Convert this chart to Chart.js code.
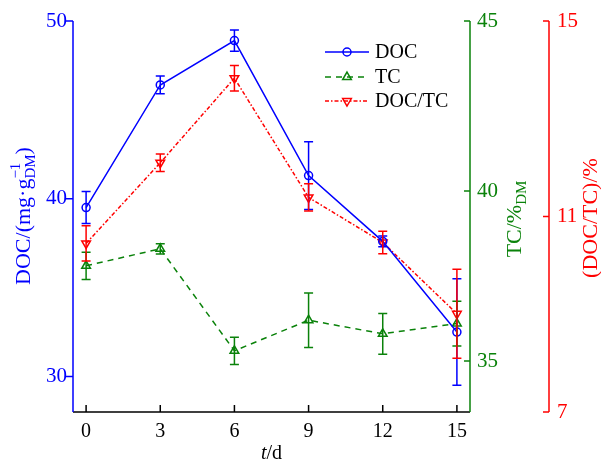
<!DOCTYPE html>
<html>
<head>
<meta charset="utf-8">
<script src="https://cdn.jsdelivr.net/npm/chart.js@4.4.1/dist/chart.umd.min.js"></script>
<style>
  html, body { margin: 0; padding: 0; background: #ffffff; }
  #doc_chart { display: block; }
</style>
</head>
<body>
<canvas id="doc_chart" width="601" height="462"></canvas>
<script>
// composting days
const days = [0, 3, 6, 9, 12, 15];

// DOC (mg/g DM) and its error bars
const docValues = [39.5, 46.4, 48.9, 41.3, 37.6, 32.5];
const docErrors = [0.9, 0.5, 0.6, 1.9, 0.3, 3.0];

// TC (% DM)
const tcValues = [37.8, 38.3, 35.3, 36.2, 35.8, 36.1];
const tcErrors = [0.4, 0.15, 0.4, 0.8, 0.6, 0.66];

// DOC/TC (%)
const ratioValues = [10.45, 12.1, 13.83, 11.39, 10.47, 9.01];
const ratioErrors = [0.36, 0.18, 0.26, 0.28, 0.23, 0.91];

// tick labels of each axis
const xTicks = [0, 3, 6, 9, 12, 15];
const docTicks = [30, 40, 50];
const tcTicks = [35, 40, 45];
const ratioTicks = [7, 11, 15];

const blue = '#0000ff';
const green = '#0a820a';
const red = '#ff0000';
const serif = '"Liberation Serif", "Times New Roman", serif';

let doc_chart = document.getElementById("doc_chart");

function points(values) {
    return days.map((d, i) => ({ x: d, y: values[i] }));
}

function setTicks(list) {
    return scale => { scale.ticks = list.map(v => ({ value: v })); };
}

// draws a marker like Chart.js does (circle / triangle)
function marker(ctx, style, x, y, r, rot, color) {
    ctx.save();
    ctx.strokeStyle = color;
    ctx.lineWidth = 1.5;
    ctx.setLineDash([]);
    ctx.beginPath();
    if (style === 'circle') {
        ctx.arc(x, y, r, 0, Math.PI * 2);
    } else {
        let rad = rot * Math.PI / 180;
        for (let k = 0; k < 3; k++) {
            let px = x + Math.sin(rad) * r;
            let py = y - Math.cos(rad) * r;
            if (k === 0) ctx.moveTo(px, py); else ctx.lineTo(px, py);
            rad += 2 * Math.PI / 3;
        }
        ctx.closePath();
    }
    ctx.stroke();
    ctx.restore();
}

const errorBars = {
    id: 'errorBars',
    afterDatasetsDraw(chart) {
        const ctx = chart.ctx;
        const xs = chart.scales.x;
        chart.data.datasets.forEach(ds => {
            const ys = chart.scales[ds.yAxisID];
            ctx.save();
            ctx.strokeStyle = ds.borderColor;
            ctx.lineWidth = 1.5;
            ctx.setLineDash([]);
            ds.errors.forEach((e, i) => {
                const x = xs.getPixelForValue(days[i]);
                const top = ys.getPixelForValue(ds.data[i].y + e);
                const bot = ys.getPixelForValue(ds.data[i].y - e);
                ctx.beginPath();
                ctx.moveTo(x, top); ctx.lineTo(x, bot);
                ctx.moveTo(x - 4.5, top); ctx.lineTo(x + 4.5, top);
                ctx.moveTo(x - 4.5, bot); ctx.lineTo(x + 4.5, bot);
                ctx.stroke();
            });
            ctx.restore();
        });
    }
};

const axesAndTexts = {
    id: 'axesAndTexts',
    afterDraw(chart) {
        const ctx = chart.ctx;
        const area = chart.chartArea;
        const sx = chart.scales.x, sy = chart.scales.y, sy1 = chart.scales.y1, sy2 = chart.scales.y2;
        ctx.save();
        ctx.lineWidth = 1.5;

        // x axis
        ctx.strokeStyle = '#000';
        ctx.beginPath();
        ctx.moveTo(area.left, area.bottom); ctx.lineTo(area.right, area.bottom);
        xTicks.forEach(v => {
            const x = sx.getPixelForValue(v);
            ctx.moveTo(x, area.bottom); ctx.lineTo(x, area.bottom - 7);
        });
        ctx.stroke();

        // left DOC axis
        ctx.strokeStyle = blue;
        ctx.beginPath();
        ctx.moveTo(area.left, area.top); ctx.lineTo(area.left, area.bottom);
        docTicks.forEach(v => {
            const y = sy.getPixelForValue(v);
            ctx.moveTo(area.left, y); ctx.lineTo(area.left - 8, y);
        });
        ctx.stroke();

        // TC axis
        ctx.strokeStyle = green;
        ctx.beginPath();
        ctx.moveTo(area.right, area.top); ctx.lineTo(area.right, area.bottom);
        tcTicks.forEach(v => {
            const y = sy1.getPixelForValue(v);
            ctx.moveTo(area.right, y); ctx.lineTo(area.right - 6, y);
        });
        ctx.stroke();

        // DOC/TC axis
        const rx = sy2.left;
        ctx.strokeStyle = red;
        ctx.beginPath();
        ctx.moveTo(rx, area.top); ctx.lineTo(rx, area.bottom);
        ratioTicks.forEach(v => {
            const y = sy2.getPixelForValue(v);
            ctx.moveTo(rx, y); ctx.lineTo(rx - 6, y);
        });
        ctx.stroke();

        // axis titles
        const big = '22px ' + serif;
        const small = '15px ' + serif;
        ctx.textBaseline = 'alphabetic';
        ctx.textAlign = 'left';

        // DOC/(mg·g-1 DM)
        ctx.save();
        ctx.fillStyle = blue;
        ctx.translate(30, 216);
        ctx.rotate(-Math.PI / 2);
        ctx.font = big;
        const mainTxt = 'DOC/(mg\u00b7g';
        const wMain = ctx.measureText(mainTxt).width;
        const wClose = ctx.measureText(')').width;
        ctx.font = small;
        const wScript = Math.max(ctx.measureText('\u22121').width, ctx.measureText('DM').width);
        let tx = -(wMain + wScript + wClose) / 2;
        ctx.font = big;
        ctx.fillText(mainTxt, tx, 0);
        tx += wMain;
        ctx.font = small;
        ctx.fillText('\u22121', tx, -10);
        ctx.fillText('DM', tx, 5);
        tx += wScript;
        ctx.font = big;
        ctx.fillText(')', tx, 0);
        ctx.restore();

        // TC/%DM
        ctx.save();
        ctx.fillStyle = green;
        ctx.translate(521, 219);
        ctx.rotate(-Math.PI / 2);
        ctx.font = big;
        const wTc = ctx.measureText('TC/%').width;
        ctx.font = small;
        const wDm = ctx.measureText('DM').width;
        tx = -(wTc + wDm) / 2;
        ctx.font = big;
        ctx.fillText('TC/%', tx, 0);
        ctx.font = small;
        ctx.fillText('DM', tx + wTc, 5);
        ctx.restore();

        // (DOC/TC)/%
        ctx.save();
        ctx.fillStyle = red;
        ctx.translate(597, 218);
        ctx.rotate(-Math.PI / 2);
        ctx.font = big;
        ctx.textAlign = 'center';
        ctx.fillText('(DOC/TC)/%', 0, 0);
        ctx.restore();

        // t/d
        ctx.fillStyle = '#000';
        ctx.font = 'italic 20px ' + serif;
        const wt = ctx.measureText('t').width;
        ctx.font = '20px ' + serif;
        const wd = ctx.measureText('/d').width;
        const cx = (area.left + area.right) / 2;
        ctx.font = 'italic 20px ' + serif;
        ctx.fillText('t', cx - (wt + wd) / 2, 459);
        ctx.font = '20px ' + serif;
        ctx.fillText('/d', cx - (wt + wd) / 2 + wt, 459);

        // legend
        const rows = [52, 77, 101];
        chart.data.datasets.forEach((ds, i) => {
            const y = rows[i];
            ctx.save();
            ctx.strokeStyle = ds.borderColor;
            ctx.lineWidth = 1.5;
            ctx.setLineDash(ds.borderDash || []);
            ctx.beginPath();
            ctx.moveTo(325, y); ctx.lineTo(369, y);
            ctx.stroke();
            ctx.restore();
            marker(ctx, ds.pointStyle, 347, y, ds.pointRadius, ds.pointRotation || 0, ds.borderColor);
            ctx.fillStyle = '#000';
            ctx.font = '20px ' + serif;
            ctx.textBaseline = 'middle';
            ctx.fillText(ds.label, 375, y + 1);
        });

        ctx.restore();
    }
};

new Chart(doc_chart, {
    type: 'line',
    data: {
        datasets: [
            {
                label: 'DOC',
                data: points(docValues),
                errors: docErrors,
                yAxisID: 'y',
                borderColor: blue,
                borderWidth: 1.5,
                pointStyle: 'circle',
                pointRadius: 4,
                pointBorderWidth: 1.5,
                pointBorderColor: blue,
                pointBackgroundColor: 'rgba(0,0,0,0)'
            },
            {
                label: 'TC',
                data: points(tcValues),
                errors: tcErrors,
                yAxisID: 'y1',
                borderColor: green,
                borderWidth: 1.5,
                borderDash: [6, 5],
                pointStyle: 'triangle',
                pointRadius: 5,
                pointBorderWidth: 1.5,
                pointBorderColor: green,
                pointBackgroundColor: 'rgba(0,0,0,0)'
            },
            {
                label: 'DOC/TC',
                data: points(ratioValues),
                errors: ratioErrors,
                yAxisID: 'y2',
                borderColor: red,
                borderWidth: 1.5,
                borderDash: [4, 2, 1.5, 2],
                pointStyle: 'triangle',
                pointRotation: 180,
                pointRadius: 5,
                pointBorderWidth: 1.5,
                pointBorderColor: red,
                pointBackgroundColor: 'rgba(0,0,0,0)'
            }
        ]
    },
    options: {
        responsive: false,
        animation: false,
        devicePixelRatio: 1,
        layout: { padding: { top: 21, left: 0, right: 0, bottom: 0 } },
        plugins: {
            legend: { display: false },
            tooltip: { enabled: false }
        },
        scales: {
            x: {
                type: 'linear',
                min: -0.53,
                max: 15.53,
                afterBuildTicks: setTicks(xTicks),
                afterFit: s => { s.height = 50; },
                grid: { display: false, drawTicks: false },
                border: { display: false },
                ticks: { color: '#000', font: { family: serif, size: 20 }, padding: 8, maxRotation: 0, autoSkip: false }
            },
            y: {
                position: 'left',
                min: 28,
                max: 50,
                afterBuildTicks: setTicks(docTicks),
                afterFit: s => { s.width = 73; },
                grid: { display: false, drawTicks: false },
                border: { display: false },
                ticks: { color: blue, font: { family: serif, size: 21 }, padding: 6 }
            },
            y1: {
                position: 'right',
                min: 33.5,
                max: 45,
                afterBuildTicks: setTicks(tcTicks),
                afterFit: s => { s.width = 79; },
                grid: { display: false, drawTicks: false },
                border: { display: false },
                ticks: { color: green, font: { family: serif, size: 21 }, padding: 7 }
            },
            y2: {
                position: 'right',
                min: 7,
                max: 15,
                afterBuildTicks: setTicks(ratioTicks),
                afterFit: s => { s.width = 52; },
                grid: { display: false, drawTicks: false },
                border: { display: false },
                ticks: { color: red, font: { family: serif, size: 21 }, padding: 8 }
            }
        }
    },
    plugins: [errorBars, axesAndTexts]
});
</script>
</body>
</html>
